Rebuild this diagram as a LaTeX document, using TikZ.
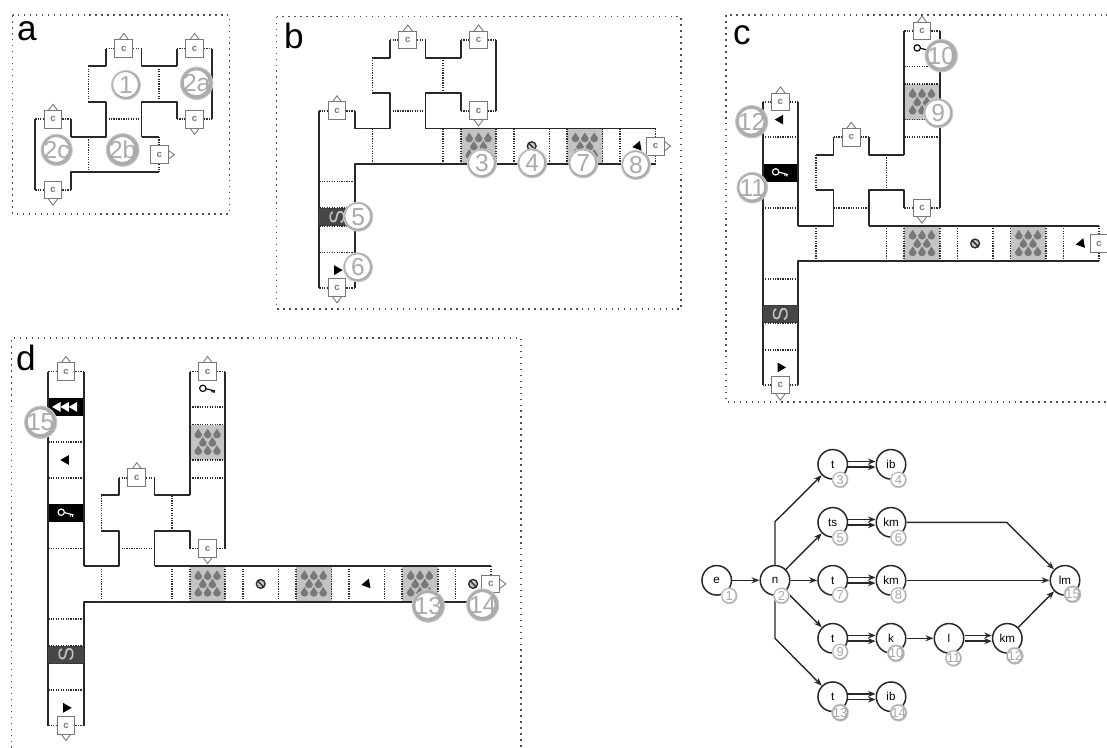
\documentclass[tikz,border=0pt]{standalone}
\usepackage{fontspec}
\setmainfont{Liberation Sans}
\usetikzlibrary{arrows.meta,positioning,calc}
\definecolor{plWall}  {RGB}{ 40, 40, 40}
\definecolor{plDot}   {RGB}{ 45, 45, 45}
\definecolor{plFrame} {RGB}{ 80, 80, 80}
\definecolor{plFloor} {RGB}{196,196,196}
\definecolor{plSpike} {RGB}{120,120,120}
\definecolor{plBand}  {RGB}{ 70, 70, 70}
\definecolor{plDoor}  {RGB}{120,120,120}
\definecolor{plBead}  {RGB}{200,200,200}
\definecolor{plBeadD} {RGB}{172,172,172}
\definecolor{plNum}   {RGB}{170,170,170}

\begin{document}
\begin{tikzpicture}[
  x=.2mm,y=-.2mm,
  gridxy/.style={x=.354cm,y=-.354cm},
  panelframe/.style={draw=plFrame,line width=.9pt,dash pattern=on .9pt off 2.5pt},
  wall/.style={draw=plWall,line width=1.05pt,line join=round},
  dotline/.style={draw=plDot,line width=.95pt,dash pattern=on .7pt off .7pt},
  door/.style={rectangle,draw=plDoor,fill=white,line width=.6pt,inner sep=0pt,
               minimum size=.354cm,text=plDoor,font=\fontsize{5.5}{6}\selectfont\bfseries},
  doortip/.style={draw=plDoor,fill=white,line width=.5pt},
  spike/.style={fill=plSpike},
  panellabel/.style={font=\fontsize{20}{20}\selectfont,inner sep=0pt},
  stext/.style={font=\fontsize{12}{12}\selectfont,text=plFloor,rotate=90,inner sep=0pt},
  bead/.style={circle,fill=white,inner sep=0pt,text=plNum,draw=plBead,line width=.5pt,
               minimum size=.58cm,font=\fontsize{14}{14}\selectfont,
               path picture={\fill[plBeadD,even odd rule]
                 (path picture bounding box.south west) rectangle (path picture bounding box.north east)
                 ([xshift=-.3pt,yshift=.3pt] path picture bounding box.center) circle (.25cm);}},
  beadS/.style={circle,fill=white,inner sep=0pt,text=plNum,draw=plBead,line width=.35pt,
               minimum size=.32cm,font=\fontsize{7.4}{8}\selectfont,
               path picture={\fill[plBeadD,even odd rule]
                 (path picture bounding box.south west) rectangle (path picture bounding box.north east)
                 ([xshift=-.12pt,yshift=.12pt] path picture bounding box.center) circle (.135cm);}},
  stat/.style={circle,draw=plWall,fill=white,line width=.85pt,inner sep=0pt,
               minimum size=.59cm,font=\fontsize{6.6}{7}\selectfont},
  gedge/.style={draw=plWall,line width=.8pt,-{Stealth[length=1.6mm,width=1.2mm]}},
  gdbl/.style={draw=plWall,line width=.75pt,-{Stealth[length=1.5mm,width=1.2mm]}}
]
\clip (0,0) rectangle (1107,747);

% Floor plan pieces, in grid units of one half cell.
\def\cdoor#1#2#3#4{%
  \draw[doortip,shift={(#2,#3)},rotate=#4] (-.3,-.45) -- (0,-.85) -- (.3,-.45);
  \node[door] (#1) at (#2,#3) {c};}
\def\onedrop#1#2{\fill[spike,shift={(#1,#2)}] (-.22,.03) -- (0,-.3) -- (.22,.03) arc (0:180:.22) -- cycle;}
\def\spikecell#1#2{%
  \fill[plFloor] (#1-1,#2-1) rectangle (#1+1,#2+1);
  \onedrop{#1-.53}{#2-.47} \onedrop{#1}{#2-.47} \onedrop{#1+.53}{#2-.47}
  \onedrop{#1-.27}{#2} \onedrop{#1+.27}{#2}
  \onedrop{#1-.53}{#2+.47} \onedrop{#1}{#2+.47} \onedrop{#1+.53}{#2+.47}}
\def\roundmark#1#2{\draw[plWall,line width=.75pt,fill=plFloor,shift={(#1,#2)}]
  (0,0) circle (.25) (-.14,-.14) -- (.14,.14);}
\def\tmark#1#2#3#4{\fill[#1,shift={(#2,#3)},rotate=#4] (0:.32) -- (120:.32) -- (240:.32) -- cycle;}
\def\keysym#1#2#3{\draw[#1,line width=.65pt,shift={(#2,#3)}]
  (-.27,-.05) circle (.18) (-.1,-.03) -- (.42,.1) (.25,.06) -- (.25,.18) (.36,.09) -- (.36,.21);}

% The room in the middle, the same in all four panels.
\def\roomcore{%
  \draw[wall] (3,1) -- (4,1) -- (4,0) (6,0) -- (6,1) -- (8,1);
  \draw[wall] (2,5) -- (4,5) -- (4,3) -- (3,3) (6,5) -- (6,3) -- (8,3) -- (8,4);
  \draw[dotline] (3,1) -- (3,3) (7,1) -- (7,3) (4,4) -- (6,4) (3,5) -- (3,7) (7,5) -- (7,7)
                 (4,0) -- (6,0) (8,4) -- (10,4);
  \cdoor{\pn room}{5}{0}{0}
  \cdoor{\pn low}{9}{4}{180}}

% Corridor cells from the room to the right.
\def\hallcells{%
  \spikecell{9}{6} \spikecell{15}{6}
  \draw[dotline] (8,5) -- (8,7) (10,5) -- (10,7) (11,5) -- (11,7) (13,5) -- (13,7)
                 (14,5) -- (14,7) (16,5) -- (16,7) (17,5) -- (17,7);
  \roundmark{12}{6}
  \tmark{black}{18}{6}{70}}

% Corridor cells below the room.
\def\lowleg{%
  \fill[plBand] (0,9.5) rectangle (2,10.5);
  \node[stext] (\pn s) at (1,10) {S};
  \draw[dotline] (0,8) -- (2,8) (0,9.5) -- (2,9.5) (0,10.5) -- (2,10.5) (0,12) -- (2,12) (0,14) -- (2,14);
  \tmark{black}{1}{13}{0}
  \cdoor{\pn foot}{1}{14}{180}}

% Upper part of the legs, panels c and d.
\def\upleg{%
  \spikecell{9}{-2}
  \draw[dotline] (8,-6) -- (10,-6) (8,-4) -- (10,-4) (8,-3) -- (10,-3) (8,-1) -- (10,-1) (8,0) -- (10,0);
  \keysym{black}{9}{-5}
  \fill[black] (0,1.5) rectangle (2,2.5);
  \keysym{white}{1}{2}
  \draw[dotline] (0,0) -- (2,0) (0,4) -- (2,4);
  \tmark{black}{1}{-1}{180}
  \cdoor{\pn rtop}{9}{-6}{0}}

% --- Panel a
\draw[panelframe] (12.7,15) rectangle (229.3,214);
\node[panellabel] (la) at (27,31) {a};
\begin{scope}[shift={(35.3,48.5)},gridxy]
  \def\pn{a}
  \draw[wall] (8,1) -- (8,0) (10,0) -- (10,4) (2,4) -- (2,5) (0,4) -- (0,8);
  \draw[wall] (2,8) -- (2,7) -- (7,7) (6,5) -- (7,5);
  \draw[dotline] (8,0) -- (10,0) (0,4) -- (2,4) (0,8) -- (2,8) (7,5) -- (7,7);
  \roomcore
  \cdoor{ahi}{9}{0}{0}
  \cdoor{atop}{1}{4}{0}
  \cdoor{afoot}{1}{8}{180}
  \cdoor{aend}{7}{6}{-90}
\end{scope}
\node[bead] (bd1) at (126,85) {1};
\node[bead] (bd2a) at (196.7,83.3) {2a};
\node[bead] (bd2b) at (122.7,150) {2b};
\node[bead] (bd2c) at (56.7,150) {2c};

% --- Panel b
\draw[panelframe] (276.7,16.7) rectangle (681,309);
\node[panellabel] (lb) at (294,36) {b};
\begin{scope}[shift={(319.3,40)},gridxy]
  \def\pn{b}
  \hallcells
  \draw[wall] (8,1) -- (8,0) (10,0) -- (10,4) (2,4) -- (2,5) (0,4) -- (0,14);
  \draw[wall] (2,14) -- (2,7) -- (19,7) (6,5) -- (19,5);
  \draw[dotline] (8,0) -- (10,0) (0,4) -- (2,4) (19,5) -- (19,7);
  \roomcore
  \lowleg
  \cdoor{bhi}{9}{0}{0}
  \cdoor{btop}{1}{4}{0}
  \cdoor{bend}{19}{6}{-90}
\end{scope}
\node[bead] (bd3) at (482,163.3) {3};
\node[bead] (bd4) at (532.3,163.3) {4};
\node[bead] (bd7) at (583.3,163.3) {7};
\node[bead] (bd8) at (636,165) {8};
\node[bead] (bd5) at (358.3,216.7) {5};
\node[bead] (bd6) at (358,267.3) {6};

% --- Panel c
\draw[panelframe] (1120,15) -- (726,15) -- (726,402) -- (1120,402);
\node[panellabel] (lc) at (742,35) {c};
\begin{scope}[shift={(762.7,137.3)},gridxy]
  \def\pn{c}
  \hallcells
  \upleg
  \draw[wall] (8,1) -- (8,-6) (10,-6) -- (10,4) (2,-2) -- (2,5) (0,-2) -- (0,14);
  \draw[wall] (2,14) -- (2,7) -- (19,7) (6,5) -- (19,5);
  \draw[dotline] (0,-2) -- (2,-2) (19,5) -- (19,7);
  \roomcore
  \lowleg
  \cdoor{ctop}{1}{-2}{0}
  \cdoor{cend}{19}{6}{-90}
\end{scope}
\node[bead] (bd10) at (941.3,55.7) {10};
\node[bead] (bd9) at (938.3,113.3) {9};
\node[bead] (bd12) at (751.7,121.7) {12};
\node[bead] (bd11) at (752.3,187.7) {11};

% --- Panel d
\draw[panelframe] (11.7,760) -- (11.7,338) -- (521,338) -- (521,760);
\node[panellabel] (ld) at (26,358) {d};
\begin{scope}[shift={(48.3,477.7)},gridxy]
  \def\pn{d}
  \hallcells
  \upleg
  \spikecell{21}{6}
  \draw[dotline] (19,5) -- (19,7) (20,5) -- (20,7) (22,5) -- (22,7) (23,5) -- (23,7) (25,5) -- (25,7);
  \roundmark{24}{6}
  \fill[black] (0,-4.5) rectangle (2,-3.5);
  \tmark{white}{.53}{-4}{180}
  \tmark{white}{1}{-4}{180}
  \tmark{white}{1.47}{-4}{180}
  \draw[wall] (8,1) -- (8,-6) (10,-6) -- (10,4) (2,-6) -- (2,5) (0,-6) -- (0,14);
  \draw[wall] (2,14) -- (2,7) -- (25,7) (6,5) -- (25,5);
  \draw[dotline] (0,-6) -- (2,-6) (0,-2) -- (2,-2);
  \roomcore
  \lowleg
  \cdoor{dtop}{1}{-6}{0}
  \cdoor{dend}{25}{6}{-90}
\end{scope}
\node[bead] (bd15) at (40.7,422.3) {15};
\node[bead] (bd13) at (428.3,606) {13};
\node[bead] (bd14) at (482.7,605) {14};

% --- State graph
\node[stat] (e) at (716.7,580.3) {e};
\node[stat] (n) at (775,580.3) {n};
\node[stat] (t3) at (832.7,464.3) {t};
\node[stat] (ib4) at (891,464.3) {ib};
\node[stat] (ts5) at (832.7,522.3) {ts};
\node[stat] (km6) at (891,522.3) {km};
\node[stat] (t7) at (832.7,580.3) {t};
\node[stat] (km8) at (891,580.3) {km};
\node[stat] (t9) at (832.7,638.3) {t};
\node[stat] (k10) at (891,638.3) {k};
\node[stat] (l11) at (949,638.3) {l};
\node[stat] (km12) at (1007.3,638.3) {km};
\node[stat] (t13) at (832.7,696.7) {t};
\node[stat] (ib14) at (891,696.7) {ib};
\node[stat] (lm15) at (1065,580.3) {lm};
\coordinate (n3) at (775,521.7);
\coordinate (n13) at (775,638.3);
\coordinate (k6) at (1006.7,522.3);

\draw[gedge] (e) -- (n);
\draw[gedge] (n) -- (n3) -- (t3);
\draw[gedge] (n) -- (ts5);
\draw[gedge] (n) -- (t7);
\draw[gedge] (n) -- (t9);
\draw[gedge] (n) -- (n13) -- (t13);
\draw[gedge] (k10) -- (l11);
\draw[gedge] (km6) -- (k6) -- (lm15);
\draw[gedge] (km8) -- (lm15);
\draw[gedge] (km12) -- (lm15);
\draw[gdbl] ([yshift=1.6pt] t3.east) -- ([yshift=1.6pt] ib4.west);
\draw[gdbl] ([yshift=-1.6pt] t3.east) -- ([yshift=-1.6pt] ib4.west);
\draw[gdbl] ([yshift=1.6pt] ts5.east) -- ([yshift=1.6pt] km6.west);
\draw[gdbl] ([yshift=-1.6pt] ts5.east) -- ([yshift=-1.6pt] km6.west);
\draw[gdbl] ([yshift=1.6pt] t7.east) -- ([yshift=1.6pt] km8.west);
\draw[gdbl] ([yshift=-1.6pt] t7.east) -- ([yshift=-1.6pt] km8.west);
\draw[gdbl] ([yshift=1.6pt] t9.east) -- ([yshift=1.6pt] k10.west);
\draw[gdbl] ([yshift=-1.6pt] t9.east) -- ([yshift=-1.6pt] k10.west);
\draw[gdbl] ([yshift=1.6pt] l11.east) -- ([yshift=1.6pt] km12.west);
\draw[gdbl] ([yshift=-1.6pt] l11.east) -- ([yshift=-1.6pt] km12.west);
\draw[gdbl] ([yshift=1.6pt] t13.east) -- ([yshift=1.6pt] ib14.west);
\draw[gdbl] ([yshift=-1.6pt] t13.east) -- ([yshift=-1.6pt] ib14.west);

\node[beadS] (g1) at ([xshift=2.5mm,yshift=-3.1mm] e.center) {1};
\node[beadS] (g2) at ([xshift=1.3mm,yshift=-3.1mm] n.center) {2};
\node[beadS] (g3) at ([xshift=1.5mm,yshift=-3.1mm] t3.center) {3};
\node[beadS] (g4) at ([xshift=1.5mm,yshift=-3.1mm] ib4.center) {4};
\node[beadS] (g5) at ([xshift=1.5mm,yshift=-3.1mm] ts5.center) {5};
\node[beadS] (g6) at ([xshift=1.5mm,yshift=-3.1mm] km6.center) {6};
\node[beadS] (g7) at ([xshift=1.5mm,yshift=-2.9mm] t7.center) {7};
\node[beadS] (g8) at ([xshift=1.5mm,yshift=-3mm] km8.center) {8};
\node[beadS] (g9) at ([xshift=1.5mm,yshift=-2.7mm] t9.center) {9};
\node[beadS] (g10) at ([xshift=1mm,yshift=-3mm] k10.center) {10};
\node[beadS] (g11) at ([xshift=.9mm,yshift=-4mm] l11.center) {11};
\node[beadS] (g12) at ([xshift=1.5mm,yshift=-3.5mm] km12.center) {12};
\node[beadS] (g13) at ([xshift=1.5mm,yshift=-3.2mm] t13.center) {13};
\node[beadS] (g14) at ([xshift=1.5mm,yshift=-3.2mm] ib14.center) {14};
\node[beadS] (g15) at ([xshift=1.5mm,yshift=-2.8mm] lm15.center) {15};
\end{tikzpicture}
\end{document}
